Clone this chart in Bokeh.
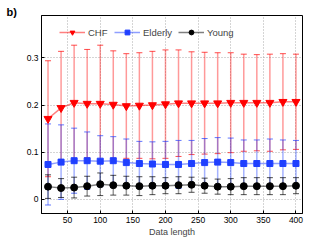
from bokeh.plotting import figure
from bokeh.models import (ColumnDataSource, Whisker, TeeHead, Legend, LegendItem,
                          FixedTicker, Range1d)
from bokeh.embed import file_html
from bokeh.resources import INLINE

data_length = [20, 40, 60, 80, 100, 120, 140, 160, 180, 200,
               220, 240, 260, 280, 300, 320, 340, 360, 380, 400]

chf_mean = [0.171, 0.194, 0.205, 0.203, 0.203, 0.201, 0.198, 0.199, 0.200, 0.202,
            0.204, 0.204, 0.204, 0.204, 0.205, 0.205, 0.205, 0.205, 0.207, 0.207]
chf_upper = [0.294, 0.314, 0.327, 0.318, 0.327, 0.315, 0.309, 0.311, 0.314, 0.317,
             0.317, 0.313, 0.312, 0.311, 0.311, 0.308, 0.307, 0.308, 0.309, 0.308]

eld_mean = [0.074, 0.079, 0.082, 0.082, 0.081, 0.082, 0.078, 0.076, 0.075, 0.074,
            0.074, 0.076, 0.078, 0.079, 0.078, 0.076, 0.076, 0.076, 0.076, 0.076]
eld_upper = [0.160, 0.158, 0.151, 0.143, 0.135, 0.133, 0.128, 0.123, 0.122, 0.123,
             0.125, 0.125, 0.129, 0.131, 0.130, 0.126, 0.126, 0.128, 0.126, 0.125]

yng_mean = [0.027, 0.024, 0.025, 0.028, 0.032, 0.030, 0.029, 0.028, 0.029, 0.029,
            0.030, 0.031, 0.029, 0.027, 0.027, 0.028, 0.028, 0.028, 0.028, 0.029]
yng_upper = [0.052, 0.044, 0.047, 0.049, 0.056, 0.051, 0.049, 0.048, 0.048, 0.046,
             0.048, 0.047, 0.045, 0.043, 0.044, 0.046, 0.046, 0.046, 0.046, 0.046]

x_ticks = [50, 100, 150, 200, 250, 300, 350, 400]
y_ticks = [0, 0.1, 0.2, 0.3]
y_tick_labels = ["0", "0.1", "0.2", "0.3"]

FONT = "Liberation Sans"

p = figure(width=313, height=239, output_backend="svg", toolbar_location=None,
           x_range=Range1d(10, 410), y_range=Range1d(-0.03, 0.39),
           min_border_left=41, min_border_right=11, min_border_top=15,
           min_border_bottom=24)
p.background_fill_color = "white"
p.border_fill_color = "white"
p.outline_line_color = "black"
p.outline_line_width = 1

p.title.text = "b)"
p.title.align = "left"
p.title.offset = -35
p.title.standoff = -4
p.title.text_font = FONT
p.title.text_font_size = "11px"
p.title.text_font_style = "bold"
p.title.text_color = "black"

for ax in (p.xaxis[0], p.yaxis[0]):
    ax.major_tick_in = 3
    ax.major_tick_out = 0
    ax.minor_tick_in = 0
    ax.minor_tick_out = 0
    ax.axis_line_color = "black"
    ax.major_tick_line_color = "black"
    ax.major_label_text_font = FONT
    ax.major_label_text_font_size = "8.5px"
    ax.major_label_text_color = "black"

p.xaxis.ticker = FixedTicker(ticks=x_ticks)
p.yaxis.ticker = FixedTicker(ticks=y_ticks)
p.yaxis.major_label_overrides = {t: s for t, s in zip(y_ticks, y_tick_labels)}
p.xaxis.major_label_standoff = 3
p.yaxis.major_label_standoff = 3
p.xaxis.axis_label = "Data length"
p.xaxis.axis_label_text_font = FONT
p.xaxis.axis_label_text_font_size = "9px"
p.xaxis.axis_label_text_font_style = "normal"
p.xaxis.axis_label_standoff = 1

p.grid.grid_line_color = "#888888"
p.grid.grid_line_dash = "1 2"
p.grid.grid_line_alpha = 0.7

series = [
    ("CHF", chf_mean, chf_upper, "#ff0000", "#ff0000", "inverted_triangle", 8),
    ("Elderly", eld_mean, eld_upper, "#1f3fff", "#1f3fff", "square", 6),
    ("Young", yng_mean, yng_upper, "#000000", "#000000", "circle", 7),
]

items = []
for name, mean, upper, ecol, mcol, marker, msize in series:
    lower = [2 * m - u for m, u in zip(mean, upper)]
    src = ColumnDataSource(dict(x=data_length, y=mean, upper=upper, lower=lower))
    w = Whisker(base="x", upper="upper", lower="lower", source=src, dimension="height",
                line_color=ecol, line_alpha=0.4, line_width=1.5,
                upper_head=TeeHead(size=6, line_color=ecol, line_alpha=0.7, line_width=1),
                lower_head=TeeHead(size=6, line_color=ecol, line_alpha=0.7, line_width=1))
    p.add_layout(w)
    items.append((name, src, ecol, mcol, marker, msize))

legend_items = []
for name, src, ecol, mcol, marker, msize in items:
    lr = p.line("x", "y", source=src, line_color=ecol, line_alpha=0.5, line_width=1.5)
    sr = p.scatter("x", "y", source=src, marker=marker, size=msize,
                   fill_color=mcol, line_color=mcol)
    legend_items.append(LegendItem(label=name, renderers=[lr, sr]))

legend = Legend(items=legend_items, orientation="horizontal", location=(18, 175),
                margin=0, padding=0, spacing=6, label_standoff=3,
                glyph_width=26, glyph_height=12, label_height=12,
                label_text_font=FONT, label_text_font_size="9.5px",
                background_fill_alpha=0, border_line_alpha=0)
p.add_layout(legend)

open("out.html", "w").write(file_html(p, INLINE))
